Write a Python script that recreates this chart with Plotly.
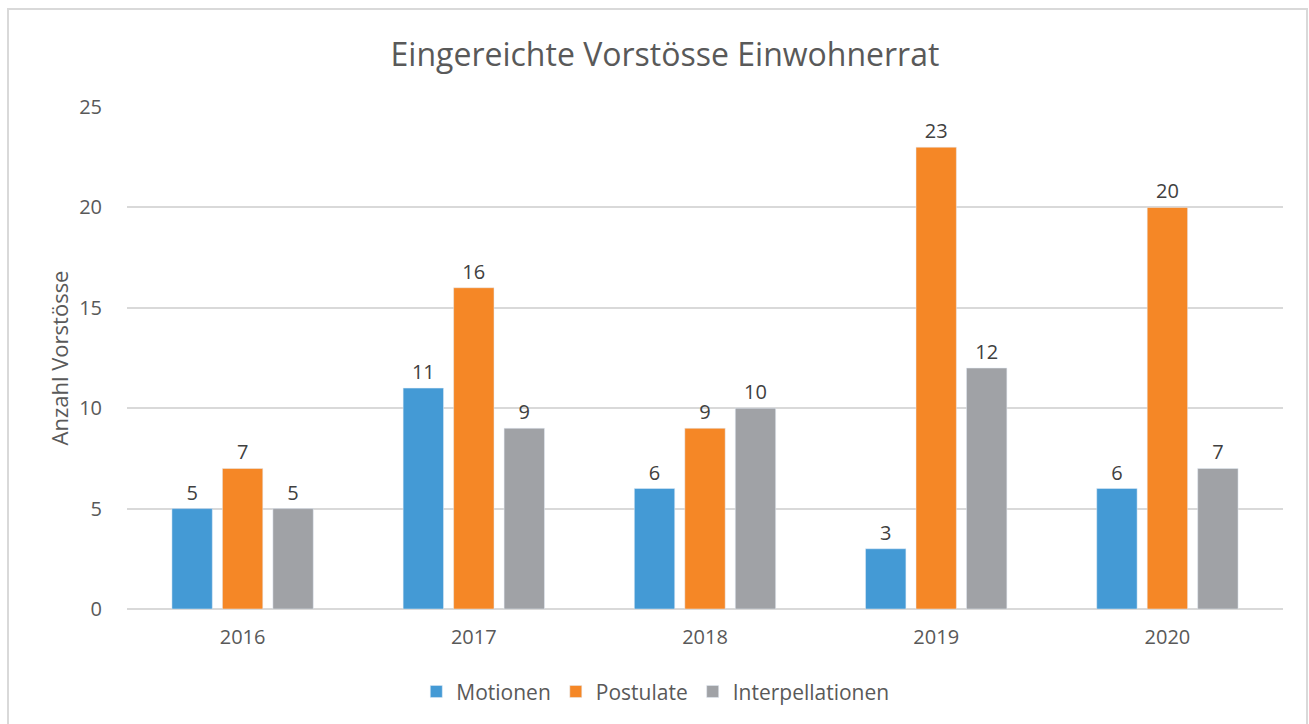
import plotly.graph_objects as go

years = ["2016", "2017", "2018", "2019", "2020"]
motionen = [5, 11, 6, 3, 6]
postulate = [7, 16, 9, 23, 20]
interpellationen = [5, 9, 10, 12, 7]
series_names = ["Motionen", "Postulate", "Interpellationen"]
colors = ["#449AD5", "#F58726", "#A0A2A6"]

fig = go.Figure()
for name, vals, col in zip(series_names, [motionen, postulate, interpellationen], colors):
    fig.add_trace(go.Bar(
        x=years, y=vals, name=name, marker_color=col,
        text=[str(v) for v in vals], textposition="outside",
        textfont=dict(size=20, color="#404040"), cliponaxis=False,
    ))

fig.update_layout(
    width=1309, height=724,
    margin=dict(l=127, r=26, t=107, b=115),
    paper_bgcolor="white", plot_bgcolor="white",
    font=dict(family="Open Sans, Noto Sans, sans-serif", color="#595959"),
    title=dict(text="Eingereichte Vorstösse Einwohnerrat", x=0.508, xref="container",
               y=1 - 55 / 724, yref="container", xanchor="center", yanchor="middle",
               font=dict(size=32, color="#595959")),
    barmode="group", bargap=0.345, bargroupgap=0.2,
    showlegend=True,
    legend=dict(orientation="h", x=0.457, xanchor="center", y=-0.165, yanchor="middle",
                font=dict(size=21, color="#595959"), itemwidth=30, traceorder="normal"),
    xaxis=dict(showgrid=False, showline=False, tickfont=dict(size=20, color="#595959"),
               ticks="outside", ticklen=10, tickcolor="rgba(0,0,0,0)"),
    yaxis=dict(range=[0, 25], dtick=5, showgrid=True, gridcolor="#D9D9D9", gridwidth=2,
               zeroline=True, zerolinecolor="#D9D9D9", zerolinewidth=2,
               tickfont=dict(size=20, color="#595959"), ticks="outside", ticklen=20,
               tickcolor="rgba(0,0,0,0)",
               title=dict(text="Anzahl Vorstösse", font=dict(size=22, color="#595959"), standoff=4)),
    shapes=[dict(type="rect", xref="paper", yref="paper",
                 x0=(8 - 127) / 1156, x1=(1307 - 127) / 1156,
                 y0=(609 - 740) / 502, y1=(609 - 9) / 502,
                 line=dict(color="#D9D9D9", width=2), fillcolor="rgba(0,0,0,0)", layer="below")],
)

fig.write_html("out.html", config={"displayModeBar": False},
               post_script="document.body.style.margin='0';document.body.style.overflow='hidden';")
